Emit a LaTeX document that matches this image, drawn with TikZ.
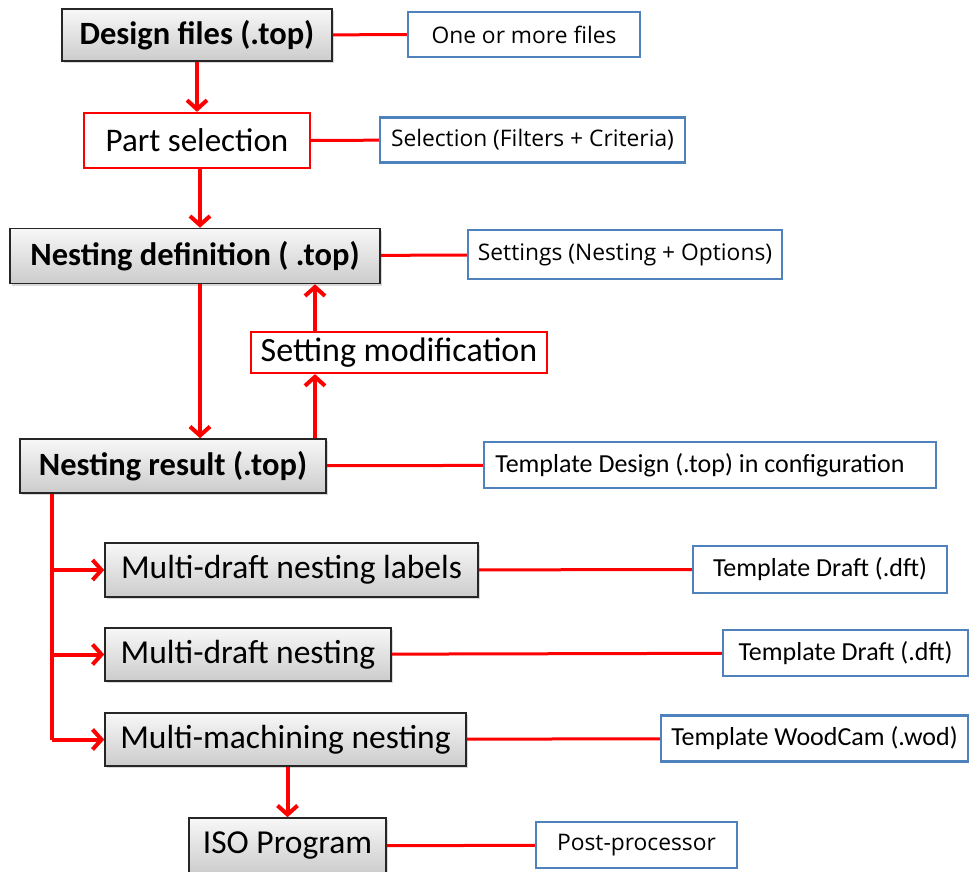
\documentclass[tikz,border=0pt]{standalone}
\usepackage{fontspec}
\setmainfont{Carlito}
\newfontfamily\uifont{Open Sans}
\usetikzlibrary{arrows.meta}
\usetikzlibrary{shadows}

\definecolor{linkred}{RGB}{255,0,0}
\definecolor{noteblue}{RGB}{79,129,189}

\begin{document}
\begin{tikzpicture}[x=1pt,y=-1pt]

\tikzstyle{filebox}=[rectangle,draw=black!85,line width=1.5pt,top color=gray!6,bottom color=gray!40,drop shadow={shadow xshift=2pt,shadow yshift=-2pt,opacity=0.3},inner sep=0pt,font=\fontsize{33.5}{40}\selectfont]
\tikzstyle{boldbox}=[filebox,font=\fontsize{32.5}{39}\selectfont\bfseries]
\tikzstyle{actbox}=[rectangle,draw=linkred,line width=2.2pt,fill=white,inner sep=0pt,font=\fontsize{33}{40}\selectfont]
\tikzstyle{note}=[rectangle,draw=noteblue,line width=2.4pt,fill=white,inner sep=0pt,font=\fontsize{26}{31}\selectfont]
\tikzstyle{uinote}=[note,font=\uifont\fontsize{22.8}{27}\selectfont]
\tikzstyle{link}=[draw=linkred,line width=3pt]
\tikzstyle{flow}=[draw=linkred,line width=4pt,-{Straight Barb[length=9pt,width=20pt]}]

\useasboundingbox (0,0) rectangle (970,872) ;

\node[boldbox,minimum width=270pt,minimum height=52pt] (design)   at (197,35)    {Design files (.top)} ;
\node[uinote,minimum width=232pt,minimum height=45pt]  (nfiles)   at (524,34.5)  {One or more files} ;
\node[actbox,minimum width=226pt,minimum height=55pt]  (partsel)  at (197,140.5) {Part selection} ;
\node[uinote,minimum width=305pt,minimum height=45pt]  (nselect)  at (532.5,140) {Selection (Filters + Criteria)} ;
\node[boldbox,minimum width=370pt,minimum height=55pt] (nestdef)  at (195,256)   {Nesting definition ( .top)} ;
\node[uinote,minimum width=314pt,minimum height=49pt]  (nsetting) at (625,254.5) {Settings (Nesting + Options)} ;
\node[actbox,minimum width=296pt,minimum height=41pt,font=\fontsize{34}{40}\selectfont] (setmod) at (399,352.5) {Setting modification} ;
\node[boldbox,minimum width=306pt,minimum height=54pt] (nestres)  at (173,466)   {Nesting result (.top)} ;
\node[note,minimum width=452pt,minimum height=46pt]    (ndesign)  at (710,465)   {\hspace*{-20pt}Template Design (.top) in configuration} ;

\node[filebox,minimum width=373pt,minimum height=54pt] (mdlabels) at (291.5,570) {Multi-draft nesting labels} ;
\node[note,minimum width=254pt,minimum height=47pt]    (ndraft1)  at (820,569.5) {Template Draft (.dft)} ;
\node[filebox,minimum width=286pt,minimum height=53pt] (mdnest)   at (248,654.5) {Multi-draft nesting} ;
\node[note,minimum width=245pt,minimum height=46pt]    (ndraft2)  at (845.5,653) {Template Draft (.dft)} ;
\node[filebox,minimum width=361pt,minimum height=53pt] (mmnest)   at (285.5,739.5) {Multi-machining nesting} ;
\node[note,minimum width=307pt,minimum height=46pt]    (nwood)    at (814.5,738.5) {Template WoodCam (.wod)} ;
\node[filebox,minimum width=197pt,minimum height=56pt] (iso)      at (287.5,846) {ISO Program} ;
\node[uinote,minimum width=201pt,minimum height=46pt]  (npost)    at (636.5,845) {Post-processor} ;

\coordinate (loop)  at (315,0) ;
\coordinate (trunk) at (52,0) ;

% main chain
\draw[flow] (design) -- (partsel) ;
\draw[flow] ([xshift=3pt]partsel.south) -- ([xshift=3pt]partsel.south |- nestdef.north) ;
\draw[flow] ([xshift=5pt]nestdef.south) -- ([xshift=5pt]nestdef.south |- nestres.north) ;
\draw[flow] (loop |- nestres.north) -- (loop |- setmod.south) ;
\draw[flow] (loop |- setmod.north) -- (loop |- nestdef.south) ;

% outputs
\draw[link,line width=4pt] (trunk |- nestres.south) -- (trunk |- mmnest) ;
\draw[flow] (trunk |- mdlabels) -- (mdlabels) ;
\draw[flow] (trunk |- mdnest) -- (mdnest) ;
\draw[flow] (trunk |- mmnest) -- (mmnest) ;
\draw[flow] (iso.north |- mmnest.south) -- (iso.north) ;

% notes
\draw[link] (design) -- (nfiles) ;
\draw[link] (partsel) -- (nselect) ;
\draw[link] (nestdef) -- (nsetting) ;
\draw[link] (nestres) -- (ndesign) ;
\draw[link] (mdlabels) -- (ndraft1) ;
\draw[link] (mdnest) -- (ndraft2) ;
\draw[link] (mmnest) -- (nwood) ;
\draw[link] (iso) -- (npost) ;

\end{tikzpicture}
\end{document}
